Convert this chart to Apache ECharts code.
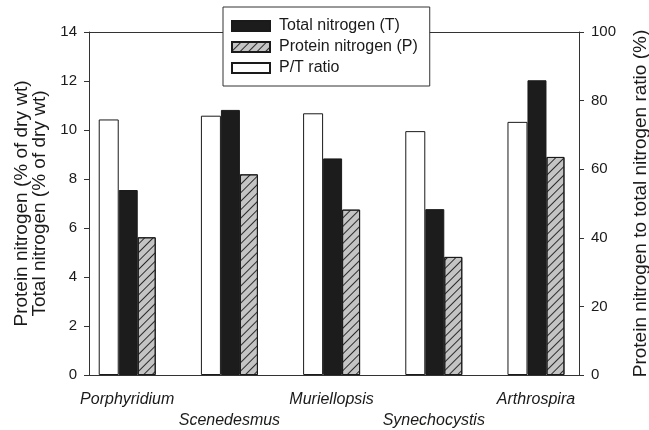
<!DOCTYPE html>
<html>
<head>
<meta charset="utf-8">
<script src="https://cdn.jsdelivr.net/npm/echarts@6/dist/echarts.min.js"></script>
<style>
html,body{margin:0;padding:0;background:#fff;}
#chart{width:649px;height:430px;}
</style>
</head>
<body>
<div id="chart"></div>
<script>
const categories = ['Porphyridium', 'Scenedesmus', 'Muriellopsis', 'Synechocystis', 'Arthrospira'];
const totalNitrogen = [7.55, 10.82, 8.84, 6.77, 12.03];
const proteinNitrogen = [5.62, 8.19, 6.75, 4.82, 8.90];
const ptRatio = [74.5, 75.6, 76.3, 71.1, 73.8];
const leftTicks = [0, 2, 4, 6, 8, 10, 12, 14];
const rightTicks = [0, 20, 40, 60, 80, 100];

const FONT = "'Liberation Sans', Arial, Helvetica, sans-serif";
const INK = '#1a1a1a';

const pairs = arr => arr.map((v, i) => [i, v]);

const chart = echarts.init(document.getElementById('chart'), null, {renderer: 'canvas'});
chart.setOption({
  animation: false,
  backgroundColor: '#fff',
  textStyle: {fontFamily: FONT, color: INK},
  grid: {left: 89, right: 70, top: 32, bottom: 55, containLabel: false, outerBoundsMode: 'none'},
  legend: {
    data: ['Total nitrogen (T)', 'Protein nitrogen (P)', 'P/T ratio'],
    orient: 'vertical',
    left: 223,
    top: 7,
    padding: [11, 12, 10, 8],
    itemWidth: 38,
    itemHeight: 10,
    itemGap: 5,
    backgroundColor: '#fff',
    borderColor: '#333',
    borderWidth: 1,
    icon: 'rect',
    selectedMode: false,
    textStyle: {fontFamily: FONT, fontSize: 16, color: INK, lineHeight: 16, padding: [0, 0, 0, 4]}
  },
  xAxis: [{
    type: 'value',
    min: -0.374,
    max: 4.421,
    minInterval: 1,
    maxInterval: 1,
    position: 'bottom',
    splitLine: {show: false},
    axisTick: {show: false},
    axisLine: {show: true, onZero: false, lineStyle: {color: '#333', width: 1}},
    axisLabel: {
      show: true,
      showMinLabel: false,
      showMaxLabel: false,
      margin: 14,
      fontFamily: FONT,
      fontSize: 16,
      fontStyle: 'italic',
      color: INK,
      lineHeight: 21,
      verticalAlign: 'top',
      formatter: function (v) {
        const r = Math.round(v);
        if (Math.abs(v - r) > 1e-6 || r < 0 || r >= categories.length) return '';
        return (r % 2 === 1 ? '\n' : '') + categories[r];
      }
    }
  }, {
    type: 'value',
    min: -0.374,
    max: 4.421,
    position: 'top',
    splitLine: {show: false},
    axisTick: {show: false},
    axisLabel: {show: false},
    axisLine: {show: true, onZero: false, lineStyle: {color: '#333', width: 1}}
  }],
  yAxis: [{
    type: 'value',
    min: 0,
    max: 14,
    interval: 2,
    position: 'left',
    name: 'Protein nitrogen (% of dry wt)\nTotal nitrogen (% of dry wt)',
    nameLocation: 'middle',
    nameRotate: 90,
    nameGap: 38,
    nameTextStyle: {fontFamily: FONT, fontSize: 19, color: INK, lineHeight: 18},
    splitLine: {show: false},
    axisLine: {show: true, onZero: false, lineStyle: {color: '#333', width: 1}},
    axisTick: {show: true, inside: false, length: 5, lineStyle: {color: '#333'}},
    axisLabel: {margin: 12, fontFamily: FONT, fontSize: 15, color: INK,
      formatter: v => leftTicks.includes(v) ? String(v) : ''}
  }, {
    type: 'value',
    min: 0,
    max: 100,
    interval: 20,
    position: 'right',
    name: 'Protein nitrogen to total nitrogen ratio (%)',
    nameLocation: 'middle',
    nameRotate: 90,
    nameGap: 52,
    nameTextStyle: {fontFamily: FONT, fontSize: 19, color: INK},
    splitLine: {show: false},
    axisLine: {show: true, onZero: false, lineStyle: {color: '#333', width: 1}},
    axisTick: {show: true, inside: false, length: 5, lineStyle: {color: '#333'}},
    axisLabel: {margin: 12, fontFamily: FONT, fontSize: 15, color: INK,
      formatter: v => rightTicks.includes(v) ? String(v) : ''}
  }],
  series: [{
    name: 'P/T ratio',
    type: 'bar',
    xAxisIndex: 0,
    yAxisIndex: 1,
    barWidth: 20,
    barGap: '0%',
    data: pairs(ptRatio),
    itemStyle: {color: '#ffffff', borderColor: INK, borderWidth: 1}
  }, {
    name: 'Total nitrogen (T)',
    type: 'bar',
    xAxisIndex: 0,
    yAxisIndex: 0,
    barWidth: 19,
    barGap: '0%',
    data: pairs(totalNitrogen),
    itemStyle: {color: '#1c1c1c', borderColor: INK, borderWidth: 1}
  }, {
    name: 'Protein nitrogen (P)',
    type: 'bar',
    xAxisIndex: 0,
    yAxisIndex: 0,
    barWidth: 18,
    barGap: '0%',
    data: pairs(proteinNitrogen),
    itemStyle: {
      color: '#c4c4c4',
      borderColor: INK,
      borderWidth: 1,
      decal: {
        symbol: 'rect',
        color: '#2a2a2a',
        dashArrayX: [1, 0],
        dashArrayY: [1, 5],
        rotation: -Math.PI / 4
      }
    }
  }]
});
</script>
</body>
</html>
